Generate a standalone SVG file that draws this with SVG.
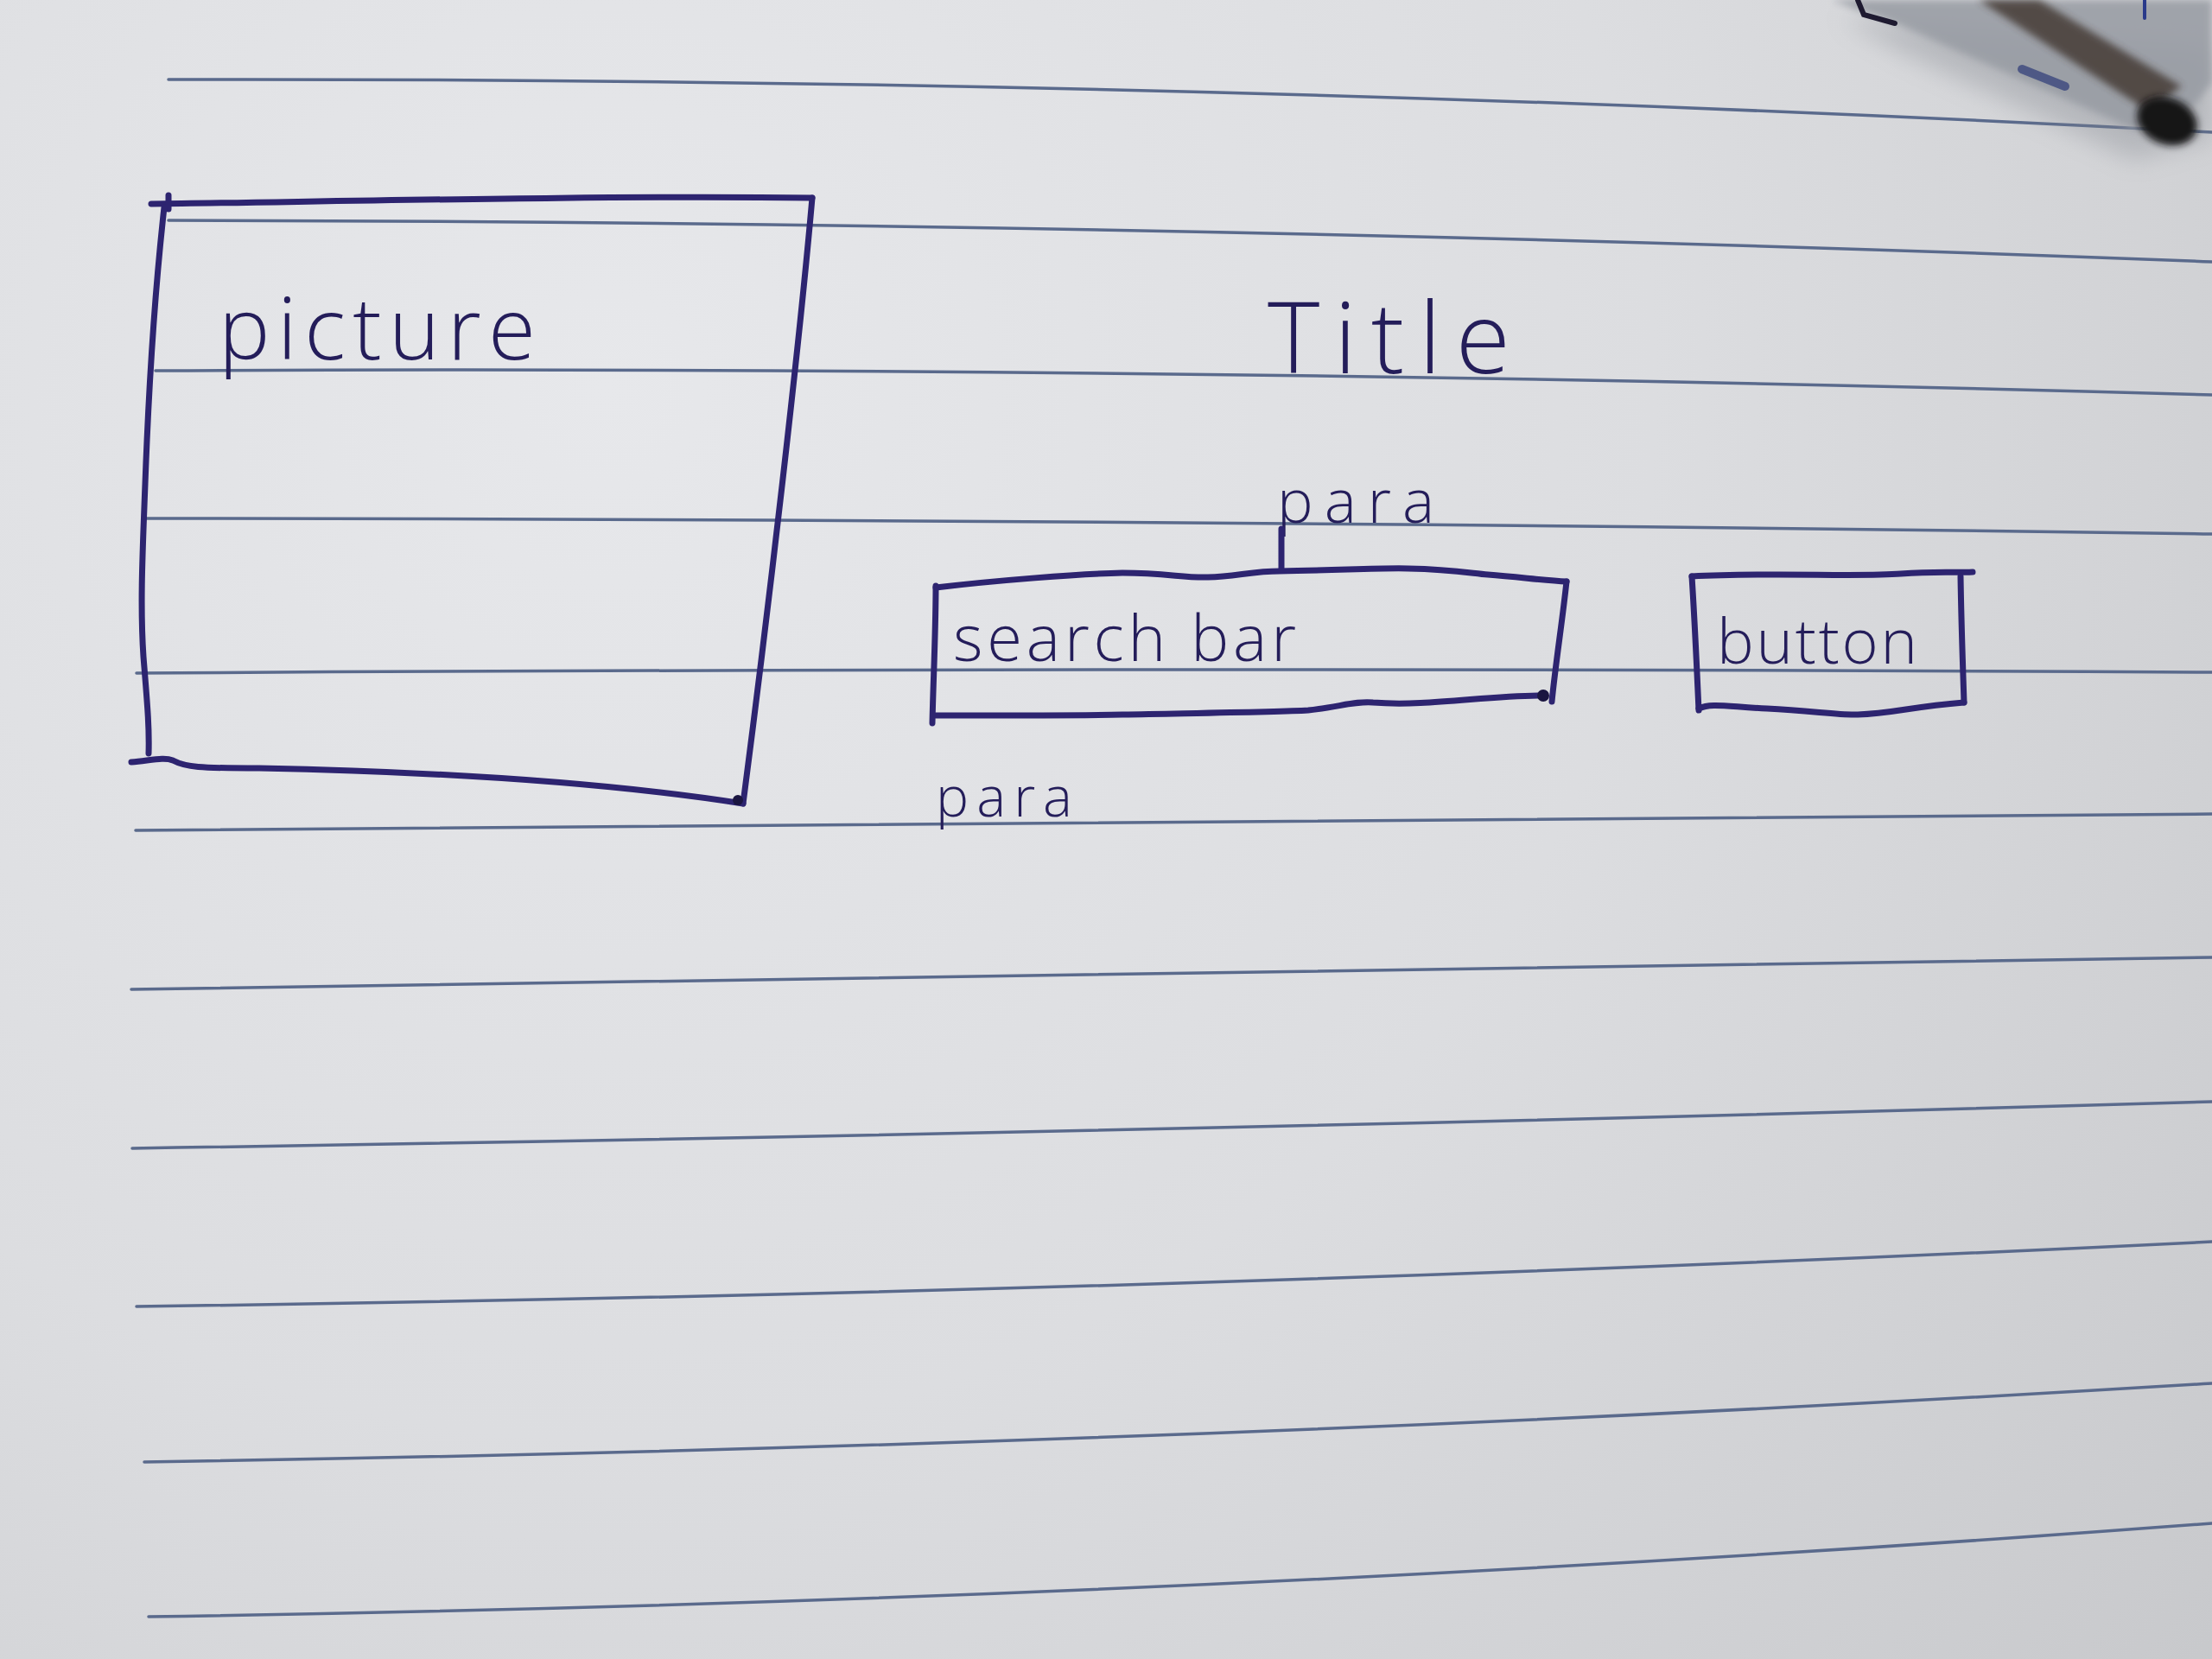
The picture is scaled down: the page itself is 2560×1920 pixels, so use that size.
<svg xmlns="http://www.w3.org/2000/svg" width="2560" height="1920" viewBox="0 0 2560 1920">
<defs>
<radialGradient id="paperGrad" cx="700" cy="450" r="2700" gradientUnits="userSpaceOnUse">
<stop offset="0" stop-color="#e7e8eb"/>
<stop offset="0.45" stop-color="#dcdde0"/>
<stop offset="1" stop-color="#c2c3c6"/>
</radialGradient>
<filter id="soft" x="-20%" y="-20%" width="140%" height="140%"><feGaussianBlur stdDeviation="14"/></filter>
<filter id="softer" x="-20%" y="-20%" width="140%" height="140%"><feGaussianBlur stdDeviation="4"/></filter>
<style>
.rule{fill:none;stroke:#5a6a8c;stroke-width:3.5;stroke-linecap:round}
.ink{fill:none;stroke:#2d2470;stroke-width:7;stroke-linecap:round;stroke-linejoin:round}
.hand{font-family:"Open Sans","DejaVu Sans",sans-serif;font-weight:300;fill:#241d5a}
</style>
</defs>
<g id="paper">
<rect x="0" y="0" width="2560" height="1920" fill="url(#paperGrad)"/>
<path class="rule" d="M195 92 Q1370 89.5 2560 153"/>
<path class="rule" d="M195 255 Q1370 257 2560 303"/>
<path class="rule" d="M180 429 Q1370 423 2560 457"/>
<path class="rule" d="M167 600 Q1370 601 2560 618"/>
<path class="rule" d="M158 779 Q1370 771.5 2560 778"/>
<path class="rule" d="M157 961 Q1370 948.5 2560 942"/>
<path class="rule" d="M152 1145 Q1370 1129.5 2560 1108"/>
<path class="rule" d="M153 1329 Q1370 1310 2560 1275"/>
<path class="rule" d="M158 1512 Q1370 1495.5 2560 1437"/>
<path class="rule" d="M167 1692 Q1370 1673.5 2560 1601"/>
<path class="rule" d="M172 1871 Q1370 1853 2560 1763"/>
</g>
<g id="connectors"></g>
<g id="picture">
<path class="ink" d="M175 236 C400 233 700 226 940 229"/>
<path class="ink" d="M195 226 L195 242"/>
<path class="ink" d="M940 229 C925 400 890 700 860 930"/>
<path class="ink" d="M152 882 C175 880 190 876 200 880 C215 888 230 889 300 889 C500 893 700 905 860 930"/>
<path class="ink" d="M190 240 C180 330 172 450 168 560 C165 640 162 700 166 760 C170 810 173 840 172 872"/>
<circle cx="854" cy="926" r="6" fill="#1a1540"/>
<text class="hand" x="253" y="416" font-size="100" textLength="367" lengthAdjust="spacing">picture</text>
</g>
<g id="title">
<text class="hand" x="1467" y="432" font-size="115" textLength="281" lengthAdjust="spacing">Title</text>
</g>
<g id="para-top">
<text class="hand" x="1478" y="605" font-size="70" textLength="182" lengthAdjust="spacing">para</text>
<path class="ink" d="M1483 612 L1483 658" stroke="#241d5a" stroke-width="6"/>
</g>
<g id="search-bar">
<path class="ink" d="M1083 680 C1150 672 1250 664 1299 663 C1350 663 1370 669 1398 668 C1430 667 1450 661 1481 661 C1550 660 1600 657 1630 658 C1680 659 1700 663 1722 665 C1760 668 1790 672 1813 673"/>
<path class="ink" d="M1813 673 C1808 720 1800 770 1796 812"/>
<path class="ink" d="M1083 828 C1150 828 1250 828 1299 827 C1400 825 1480 824 1514 822 C1550 818 1570 811 1589 813 C1650 818 1720 805 1785 805"/>
<circle cx="1786" cy="805" r="7" fill="#1a1540"/>
<path class="ink" d="M1083 678 C1083 730 1080 790 1079 837"/>
<text class="hand" x="1103" y="765" font-size="74" textLength="397" lengthAdjust="spacing">search bar</text>
</g>
<g id="button">
<path class="ink" d="M1958 667 C2050 662 2150 668 2200 664 C2240 661 2260 663 2283 662" stroke-width="6"/>
<path class="ink" d="M1958 667 C1962 730 1964 780 1966 822" stroke-width="4"/>
<path class="ink" d="M2269 667 C2270 730 2272 780 2273 813" stroke-width="4"/>
<path class="ink" d="M1966 820 C1980 813 2000 818 2045 820 C2100 823 2130 828 2150 827 C2190 826 2210 818 2273 813" stroke-width="6"/>
<text class="hand" x="1987" y="768" font-size="72" textLength="232" lengthAdjust="spacing">button</text>
</g>
<g id="para-bottom">
<text class="hand" x="1083" y="945" font-size="64" textLength="158" lengthAdjust="spacing">para</text>
</g>
<g id="pen">
<path d="M2130 20 L2200 60 L2470 185 L2560 160 L2560 60 Z" fill="#7f838b" opacity="0.35" filter="url(#soft)"/>
<path d="M2120 0 L2193 27 L2470 150 L2540 122 L2560 95 L2560 0 Z" fill="#979ba3" opacity="0.85" filter="url(#softer)"/>
<path d="M2290 0 L2360 0 L2525 100 L2485 128 Z" fill="#3f362d" opacity="0.8" filter="url(#softer)"/>
<path d="M2340 80 L2390 100" stroke="#2e3a78" stroke-width="10" stroke-linecap="round" opacity="0.7" fill="none"/>
<path d="M2150 0 L2157 17 L2193 27" fill="none" stroke="#1e1a30" stroke-width="6" stroke-linecap="round"/>
<ellipse cx="2508" cy="140" rx="36" ry="27" transform="rotate(22 2508 140)" fill="#141218" filter="url(#softer)"/>
<path d="M2482 0 L2482 21" stroke="#2a3a8a" stroke-width="4" stroke-linecap="round"/>
</g>
</svg>
